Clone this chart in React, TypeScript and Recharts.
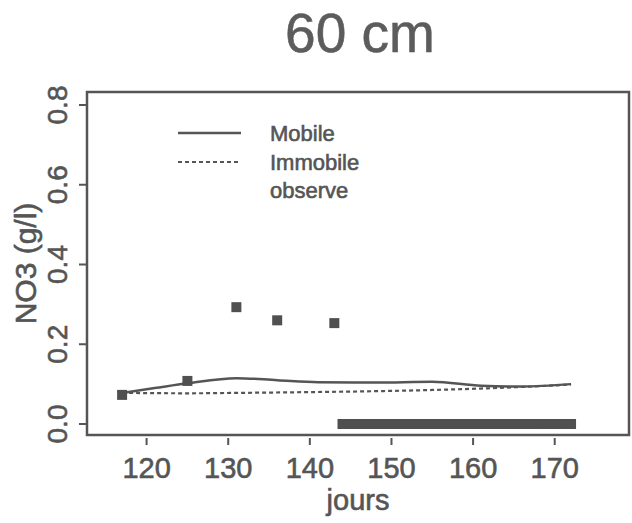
import { ComposedChart, Line, Scatter, XAxis, YAxis, ReferenceArea, Legend } from 'recharts'

// NO3 at 60 cm: simulated mobile / immobile water vs observed
const mobileDays = [117, 121, 125, 131, 136, 141, 148, 155, 161, 166, 172]
const mobileNO3 = [0.078, 0.09, 0.102, 0.115, 0.11, 0.105, 0.104, 0.106, 0.096, 0.094, 0.1]

const immobileDays = [117, 125, 131, 140, 150, 158, 165, 172]
const immobileNO3 = [0.078, 0.077, 0.078, 0.08, 0.083, 0.087, 0.092, 0.099]

const obsDays = [
  117, 125, 131, 136, 143,
  144, 145, 146, 147, 148, 149, 150, 151, 152, 153, 154, 155, 156, 157, 158,
  159, 160, 161, 162, 163, 164, 165, 166, 167, 168, 169, 170, 171, 172,
]
const obsNO3 = [
  0.073, 0.108, 0.293, 0.26, 0.253,
  0, 0, 0, 0, 0, 0, 0, 0, 0, 0, 0, 0, 0, 0, 0,
  0, 0, 0, 0, 0, 0, 0, 0, 0, 0, 0, 0, 0, 0,
]

const xTicks = [120, 130, 140, 150, 160, 170]
const yTicks = [0, 0.2, 0.4, 0.6, 0.8]
const legendLabels = ['Mobile', 'Immobile', 'observe']

const X_DOMAIN: [number, number] = [112.7, 179.1]
const Y_DOMAIN: [number, number] = [-0.0276, 0.8326]

const INK = '#555555'
const FONT = '"Liberation Sans", Arial, sans-serif'

const mobileData = mobileDays.map((d, i) => ({ day: d, v: mobileNO3[i] }))
const immobileData = immobileDays.map((d, i) => ({ day: d, v: immobileNO3[i] }))
const obsData = obsDays.map((d, i) => ({ day: d, v: obsNO3[i] }))

// scanned print looks a bit heavy, thicken glyphs slightly
const textInk = { fill: INK, stroke: INK, strokeWidth: 0.6, fontFamily: FONT }

const XTick = ({ x, y, payload }: any) => (
  <g>
    <line x1={x} x2={x} y1={y + 3} y2={y + 10} stroke={INK} strokeWidth={2} />
    <text x={x} y={y + 33} textAnchor="middle" dominantBaseline="central" fontSize={29} {...textInk}>
      {payload.value}
    </text>
  </g>
)

const YTick = ({ x, y, payload }: any) => (
  <g>
    <line x1={x - 8} x2={x - 1} y1={y} y2={y} stroke={INK} strokeWidth={2} />
    <text x={x - 29} y={y} textAnchor="middle" dominantBaseline="central" fontSize={28} {...textInk}
      transform={`rotate(-90 ${x - 29} ${y})`}>
      {Number(payload.value).toFixed(1)}
    </text>
  </g>
)

const Square = ({ cx, cy }: any) => (
  <rect x={cx - 5} y={cy - 5} width={10} height={10} fill="#505050" />
)

const LegendBox = () => (
  <svg width={200} height={92} style={{ display: 'block' }}>
    <line x1={0} x2={63} y1={15} y2={15} stroke={INK} strokeWidth={2.5} />
    <line x1={0} x2={63} y1={44} y2={44} stroke={INK} strokeWidth={2.2} strokeDasharray="4 3" />
    {legendLabels.map((t, i) => (
      <text key={t} x={92} y={23 + i * 28.5} fontSize={22} {...textInk}>
        {t}
      </text>
    ))}
  </svg>
)

export default function App() {
  return (
    <div style={{ position: 'absolute', left: 0, top: 0, width: 632, height: 523, background: '#fff' }}>
      <div style={{
        position: 'absolute', left: 160, top: 6, width: 400, textAlign: 'center',
        fontFamily: FONT, fontSize: 55, lineHeight: '55px', color: '#5c5c5c',
        WebkitTextStroke: '0.6px #5c5c5c',
      }}>
        60 cm
      </div>
      <ComposedChart width={632} height={523} margin={{ top: 92, right: 3, left: 0, bottom: 0 }}>
        <XAxis
          type="number"
          dataKey="day"
          domain={X_DOMAIN}
          ticks={xTicks}
          allowDataOverflow
          height={88}
          axisLine={false}
          tickLine={false}
          tickSize={0}
          tickMargin={0}
          tick={<XTick />}
          label={{
            content: ({ viewBox }: any) => (
              <text x={viewBox.x + viewBox.width / 2} y={viewBox.y + 75}
                textAnchor="middle" fontSize={29} {...textInk}>
                jours
              </text>
            ),
          }}
        />
        <YAxis
          type="number"
          dataKey="v"
          domain={Y_DOMAIN}
          ticks={yTicks}
          allowDataOverflow
          width={87}
          axisLine={false}
          tickLine={false}
          tickSize={0}
          tickMargin={0}
          tick={<YTick />}
          label={{
            content: ({ viewBox }: any) => {
              const cx = 25
              const cy = viewBox.y + viewBox.height / 2
              return (
                <text x={cx} y={cy} textAnchor="middle" dominantBaseline="central"
                  fontSize={30} {...textInk}
                  transform={`rotate(-90 ${cx} ${cy})`}>
                  NO3 (g/l)
                </text>
              )
            },
          }}
        />
        <ReferenceArea x1={X_DOMAIN[0]} x2={X_DOMAIN[1]} y1={Y_DOMAIN[0]} y2={Y_DOMAIN[1]}
          fill="none" stroke={INK} strokeWidth={2.5} fillOpacity={0} ifOverflow="visible" />
        <Line data={mobileData} dataKey="v" type="monotone" stroke={INK} strokeWidth={2.5}
          dot={false} isAnimationActive={false} />
        <Line data={immobileData} dataKey="v" type="monotone" stroke={INK} strokeWidth={2.2}
          strokeDasharray="4 3" dot={false} isAnimationActive={false} />
        <Scatter data={obsData} dataKey="v" shape={<Square />} isAnimationActive={false} />
        <Legend
          layout="horizontal"
          verticalAlign="middle"
          align="center"
          content={<LegendBox />}
          wrapperStyle={{ position: 'absolute', left: 178, top: 118, width: 200, height: 92 }}
        />
      </ComposedChart>
    </div>
  )
}
